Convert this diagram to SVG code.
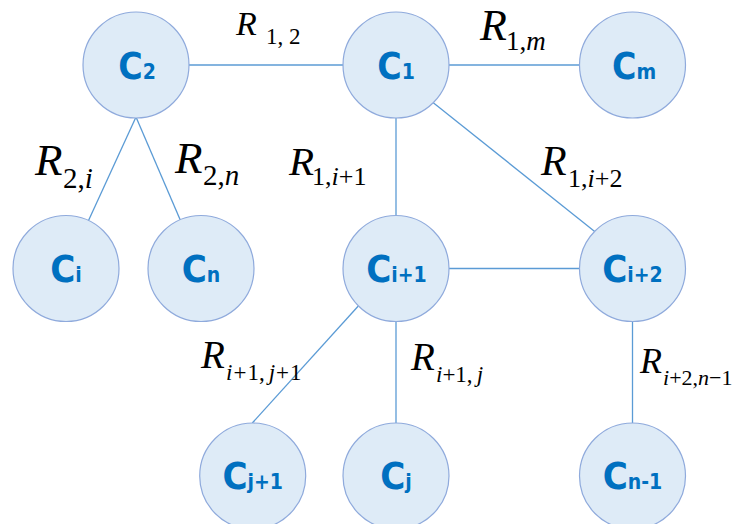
<svg xmlns="http://www.w3.org/2000/svg" width="737" height="524" viewBox="0 0 737 524">
<style>
.node circle{fill:#DEEBF7;stroke:#8FAADC;stroke-width:1.2}
.nl{font-family:"DejaVu Sans Condensed","DejaVu Sans",sans-serif;font-stretch:condensed;font-weight:bold;fill:#0070C0;text-anchor:middle}
.nl .s{font-size:21px}
.edges line{stroke:#5B9BD5;stroke-width:1.3}
.el{font-family:"Liberation Serif","Times New Roman",serif;fill:#000}
.it{font-style:italic}
</style>
<rect width="737" height="524" fill="#fff"/>
<g class="edges" id="connectors">
<line x1="189" y1="65" x2="343" y2="65"/>
<line x1="449" y1="65" x2="579" y2="65"/>
<line x1="136" y1="117" x2="88.3" y2="221"/>
<line x1="136" y1="117" x2="180.7" y2="221"/>
<line x1="396" y1="117" x2="396" y2="216"/>
<line x1="433.3" y1="102.7" x2="595" y2="231.7"/>
<line x1="449" y1="268.5" x2="579" y2="268.5"/>
<line x1="358.3" y1="306" x2="252.3" y2="423"/>
<line x1="396" y1="321" x2="396" y2="423"/>
<line x1="632.5" y1="321" x2="632.5" y2="423"/>
</g>
<g class="node" id="C2"><circle cx="136" cy="65" r="53"/><text class="nl" x="137" y="79" font-size="37">C<tspan class="s">2</tspan></text></g>
<g class="node" id="C1"><circle cx="396" cy="65" r="53"/><text class="nl" x="396" y="79" font-size="37">C<tspan class="s">1</tspan></text></g>
<g class="node" id="Cm"><circle cx="632.5" cy="65" r="53"/><text class="nl" x="634" y="79" font-size="37">C<tspan class="s">m</tspan></text></g>
<g class="node" id="Ci"><circle cx="66" cy="268.5" r="53"/><text class="nl" x="66" y="282" font-size="38">C<tspan class="s">i</tspan></text></g>
<g class="node" id="Cn"><circle cx="201" cy="268.5" r="53"/><text class="nl" x="201" y="282" font-size="38">C<tspan class="s">n</tspan></text></g>
<g class="node" id="Ci1"><circle cx="396" cy="268.5" r="53"/><text class="nl" x="396.5" y="282" font-size="38">C<tspan class="s">i+1</tspan></text></g>
<g class="node" id="Ci2"><circle cx="632.5" cy="268.5" r="53"/><text class="nl" x="632.5" y="282" font-size="38">C<tspan class="s">i+2</tspan></text></g>
<g class="node" id="Cj1"><circle cx="252.7" cy="476" r="53"/><text class="nl" x="252.7" y="489" font-size="38">C<tspan class="s">j+1</tspan></text></g>
<g class="node" id="Cj"><circle cx="396" cy="476" r="53"/><text class="nl" x="396" y="489" font-size="38">C<tspan class="s">j</tspan></text></g>
<g class="node" id="Cn1"><circle cx="632.5" cy="476" r="53"/><text class="nl" x="632.5" y="489" font-size="38">C<tspan class="s">n-1</tspan></text></g>
<g id="edge-labels">
<text class="el" x="236" y="35"><tspan class="it" font-size="34">R</tspan><tspan x="266" y="44" font-size="23">1, 2</tspan></text>
<text class="el" x="480" y="40"><tspan class="it" font-size="44">R</tspan><tspan x="506" y="50" font-size="27">1,</tspan><tspan class="it" font-size="27">m</tspan></text>
<text class="el" x="35" y="175"><tspan class="it" font-size="45">R</tspan><tspan x="63" y="188" font-size="29">2,</tspan><tspan class="it" font-size="29">i</tspan></text>
<text class="el" x="175" y="173"><tspan class="it" font-size="45">R</tspan><tspan x="203" y="185" font-size="29">2,</tspan><tspan class="it" font-size="29">n</tspan></text>
<text class="el" x="289" y="175"><tspan class="it" font-size="41">R</tspan><tspan x="312" y="185" font-size="26">1,</tspan><tspan class="it" font-size="26">i</tspan><tspan font-size="26">+1</tspan></text>
<text class="el" x="541" y="175"><tspan class="it" font-size="42">R</tspan><tspan x="568" y="187" font-size="26">1,</tspan><tspan class="it" font-size="26">i</tspan><tspan font-size="26">+2</tspan></text>
<text class="el" x="201" y="368"><tspan class="it" font-size="39">R</tspan><tspan x="226" y="380" font-size="23" class="it">i</tspan><tspan font-size="23" dx="1">+</tspan><tspan font-size="23" dx="1">1,</tspan><tspan class="it" font-size="23" dx="4">j</tspan><tspan font-size="23" dx="1">+</tspan><tspan font-size="23" dx="1">1</tspan></text>
<text class="el" x="411" y="370"><tspan class="it" font-size="39">R</tspan><tspan x="436" y="382" font-size="23" class="it">i</tspan><tspan font-size="23">+1,</tspan><tspan class="it" font-size="23" dx="4">j</tspan></text>
<text class="el" x="640" y="373"><tspan class="it" font-size="36">R</tspan><tspan x="663" y="385" font-size="22" class="it">i</tspan><tspan font-size="22">+2,</tspan><tspan class="it" font-size="22">n</tspan><tspan font-size="22">−1</tspan></text>
</g>
</svg>
